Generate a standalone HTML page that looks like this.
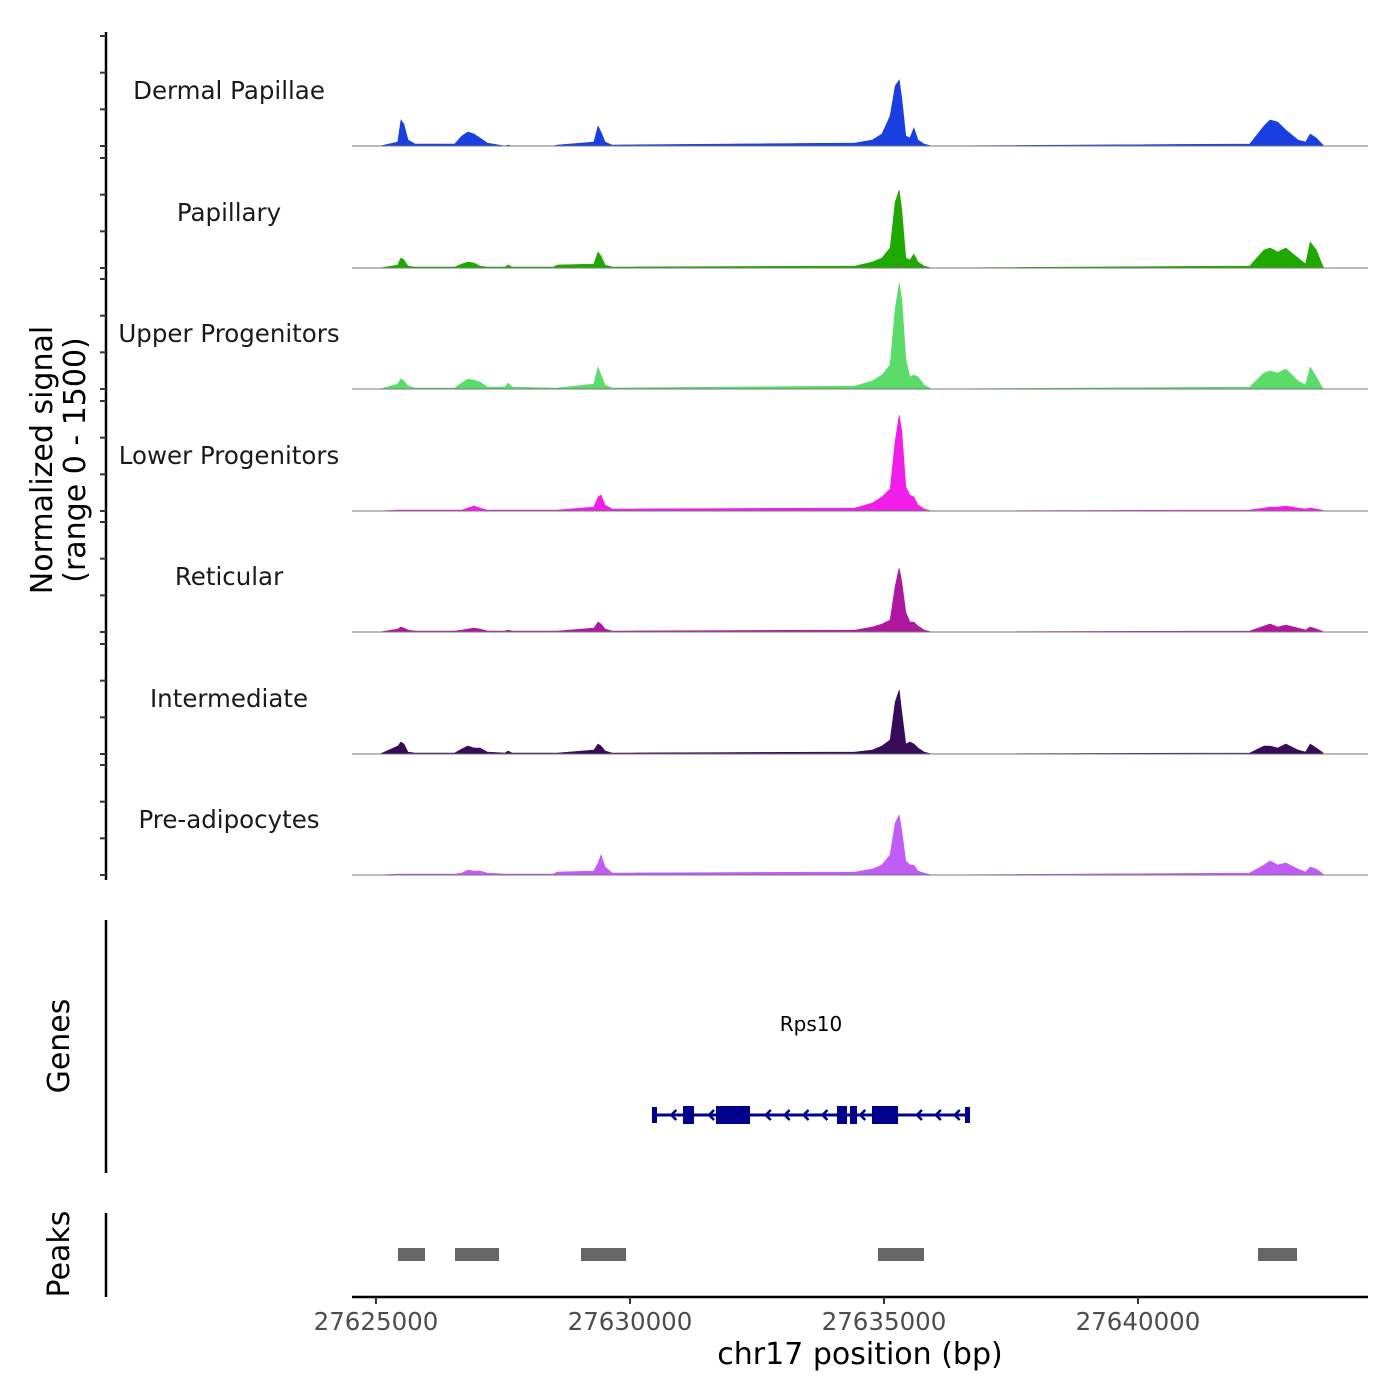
<!DOCTYPE html>
<html><head><meta charset="utf-8">
<style>
html,body{margin:0;padding:0;background:#fff;}
svg{display:block;font-family:"DejaVu Sans","Liberation Sans",sans-serif;}
</style></head>
<body>
<svg id="chart" width="1400" height="1400" viewBox="0 0 1400 1400" xmlns="http://www.w3.org/2000/svg">
<rect width="1400" height="1400" fill="#fff"/>
<g id="tracks"></g>
<g id="genes"></g>
<g id="peaks"></g>
<g id="axes"></g>
</svg>
<script>
const positions = [27625080,27625430,27625490,27625550,27625630,27625770,27626550,27626690,27626810,27626930,27627050,27627190,27627540,27627600,27627680,27628490,27628570,27629290,27629370,27629430,27629510,27629650,27634430,27634770,27634960,27635120,27635220,27635300,27635350,27635430,27635510,27635590,27635670,27635790,27635940,27642200,27642480,27642600,27642750,27642910,27643150,27643300,27643390,27643510,27643620,27643660];
const groups = ["Dermal Papillae","Papillary","Upper Progenitors","Lower Progenitors","Reticular","Intermediate","Pre-adipocytes"];
const colors = ["#1a3fe0","#1ea800","#5bdc6a","#f01ee8","#b0179f","#3a0a5a","#c05cf8"];
const sigDP  = [0,56,364,308,84,28,28,140,196,168,112,42,0,14,0,0,14,56,280,196,56,14,42,84,168,420,840,924,672,140,112,252,84,28,0,28,280,364,336,224,84,56,168,112,28,0];
const sigPap = [0,42,140,112,28,14,14,56,84,70,28,14,14,42,14,14,42,56,224,168,42,14,28,84,140,280,924,1092,812,140,112,196,84,28,0,28,252,280,224,280,140,56,364,252,56,0];
const sigUp  = [0,70,140,112,42,14,14,84,140,126,98,28,28,84,28,14,14,70,308,196,56,14,42,112,196,336,1120,1484,1260,420,168,196,168,56,0,28,224,252,224,280,112,56,308,168,28,0];
const sigLow = [0,14,14,14,14,14,14,14,42,70,42,14,14,14,14,14,14,56,196,224,84,28,42,112,196,308,980,1344,1120,336,224,196,84,28,0,14,42,56,56,70,42,28,42,28,14,0];
const sigRet = [0,42,70,56,28,14,14,28,42,56,42,14,14,28,14,14,14,56,140,112,42,14,28,70,112,168,644,896,700,280,140,140,84,28,0,14,84,112,70,98,56,28,70,42,14,0];
const sigInt = [0,112,168,140,28,14,14,70,112,84,84,28,14,42,14,14,14,56,140,112,42,14,28,56,112,196,728,896,588,140,168,140,84,28,0,14,112,112,84,140,56,28,140,84,28,0];
const sigPre = [0,14,14,14,14,14,14,28,70,56,56,28,14,14,14,14,42,56,168,280,112,28,42,84,140,280,728,840,616,196,140,140,56,28,0,28,140,196,140,168,84,42,112,84,28,0];
const xTicks = [27625000,27630000,27635000,27640000];
const yTicks = [0,500,1000,1500];
const geneName = "Rps10";
const geneStart = 27630433, geneEnd = 27636693;
const exonStarts = [27630433,27631044,27631693,27634075,27634331,27634764,27636595];
const exonEnds   = [27630532,27631260,27632363,27634272,27634469,27635276,27636693];
const peakStarts = [27625434,27626556,27629036,27634882,27642363];
const peakEnds   = [27625965,27627422,27629922,27635788,27643131];

const NS = "http://www.w3.org/2000/svg";
const X0 = 352, X1 = 1368, BP0 = 27624528, BP1 = 27644528;
function xs(bp){ return X0 + (bp - BP0) / (BP1 - BP0) * (X1 - X0); }
const baselines = [146,268,389,511,632,754,875];
function ys(v, base){ return base - v * 110 / 1540; }
function mk(tag, attrs, parent){ const e = document.createElementNS(NS, tag); for (const k in attrs) e.setAttribute(k, attrs[k]); parent.appendChild(e); return e; }

const tracks = document.getElementById('tracks');
const allSig = [sigDP,sigPap,sigUp,sigLow,sigRet,sigInt,sigPre];
allSig.forEach((sig, i) => {
  const base = baselines[i];
  let d = "M" + xs(positions[0]) + "," + base;
  sig.forEach((v, j) => { d += " L" + xs(positions[j]).toFixed(1) + "," + ys(v, base).toFixed(1); });
  d += " L" + xs(positions[positions.length - 1]).toFixed(1) + "," + base + " Z";
  const p = mk('path', {d: d, fill: colors[i], stroke: colors[i], 'stroke-width': 0.6}, tracks);
  
  
  const l = mk('line', {x1: X0, x2: X1, y1: base, y2: base, stroke: '#777777', 'stroke-width': 1}, tracks);
  
  
  const t = mk('text', {x: 229, y: base - 47, 'text-anchor': 'middle', 'font-size': 24.5, fill: '#1a1a1a'}, tracks);
  t.textContent = groups[i];
  
  
});

const axes = document.getElementById('axes');
let a = mk('line', {x1: 106, x2: 106, y1: 32, y2: 880, stroke: '#000', 'stroke-width': 2.5}, axes);


baselines.forEach(base => {
  yTicks.forEach(v => {
    const tk = mk('line', {x1: 100, x2: 106, y1: ys(v * 1540 / 1500, base), y2: ys(v * 1540 / 1500, base), stroke: '#333', 'stroke-width': 2}, axes);
    
    
  });
});
let yt = mk('text', {transform: 'translate(52,460) rotate(-90)', 'text-anchor': 'middle', 'font-size': 30}, axes);
yt.textContent = 'Normalized signal';


let yt2 = mk('text', {transform: 'translate(85,460) rotate(-90)', 'text-anchor': 'middle', 'font-size': 30}, axes);
yt2.textContent = '(range 0 - 1500)';



a = mk('line', {x1: 106, x2: 106, y1: 920, y2: 1173, stroke: '#000', 'stroke-width': 2.5}, axes);


let gt = mk('text', {transform: 'translate(69,1046) rotate(-90)', 'text-anchor': 'middle', 'font-size': 30}, axes);
gt.textContent = 'Genes';


a = mk('line', {x1: 106, x2: 106, y1: 1213, y2: 1297, stroke: '#000', 'stroke-width': 2.5}, axes);


let pt = mk('text', {transform: 'translate(69,1254) rotate(-90)', 'text-anchor': 'middle', 'font-size': 30}, axes);
pt.textContent = 'Peaks';



a = mk('line', {x1: X0, x2: X1, y1: 1297, y2: 1297, stroke: '#000', 'stroke-width': 2.5}, axes);


xTicks.forEach(bp => {
  const tk = mk('line', {x1: xs(bp), x2: xs(bp), y1: 1297, y2: 1304, stroke: '#333', 'stroke-width': 2}, axes);
  
  
  const tl = mk('text', {x: xs(bp), y: 1330, 'text-anchor': 'middle', 'font-size': 24.5, fill: '#4d4d4d'}, axes);
  tl.textContent = String(bp);
  
  
});
let xt = mk('text', {x: 860, y: 1364, 'text-anchor': 'middle', 'font-size': 30}, axes);
xt.textContent = 'chr17 position (bp)';



const genes = document.getElementById('genes');
const GY = 1115;
let gl = mk('line', {x1: xs(geneStart), x2: xs(geneEnd), y1: GY, y2: GY, stroke: '#00008b', 'stroke-width': 3}, genes);


for (let bp = geneStart + 380; bp < geneEnd; bp += 372) {
  const inside = exonStarts.some((s, k) => bp > s - 60 && bp < exonEnds[k] + 60);
  if (inside) continue;
  const x = xs(bp);
  const ch = mk('path', {d: `M${x + 5},${GY - 5} L${x},${GY} L${x + 5},${GY + 5}`, fill: 'none', stroke: '#00008b', 'stroke-width': 2.5}, genes);
  
  
}
exonStarts.forEach((s, k) => {
  const small = (exonEnds[k] - s) < 120;
  const r = mk('rect', {x: xs(s), y: small ? GY - 8 : GY - 9, width: Math.max(4, xs(exonEnds[k]) - xs(s)), height: small ? 16 : 18, fill: '#00008b'}, genes);
  
  
});
let gn = mk('text', {x: (xs(geneStart) + xs(geneEnd)) / 2, y: 1031, 'text-anchor': 'middle', 'font-size': 20}, genes);
gn.textContent = geneName;



const peaks = document.getElementById('peaks');
peakStarts.forEach((s, k) => {
  const r = mk('rect', {x: xs(s), y: 1248, width: xs(peakEnds[k]) - xs(s), height: 13, fill: '#666666'}, peaks);
  
  
});
</script>
</body></html>
